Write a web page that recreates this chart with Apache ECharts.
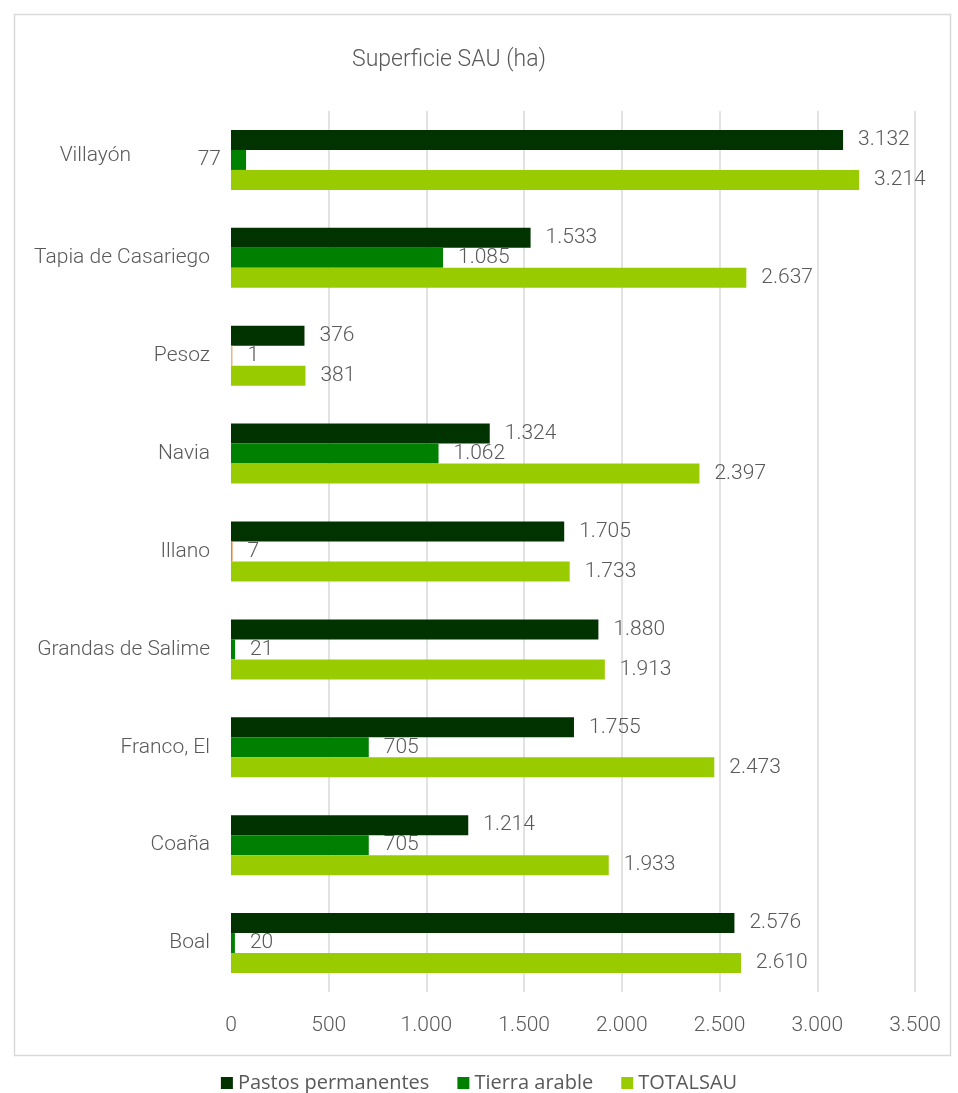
<!DOCTYPE html>
<html>
<head>
<meta charset="utf-8">
<script src="https://cdn.jsdelivr.net/npm/echarts@6/dist/echarts.min.js"></script>
<style>
html,body{margin:0;padding:0;background:#fff;}
#chart{width:958px;height:1093px;}
</style>
</head>
<body>
<div id="chart"></div>
<script>
const categories = ['Boal', 'Coaña', 'Franco, El', 'Grandas de Salime', 'Illano', 'Navia', 'Pesoz', 'Tapia de Casariego', 'Villayón'];
const pastos = [2576, 1214, 1755, 1880, 1705, 1324, 376, 1533, 3132];
const tierra = [20, 705, 705, 21, 7, 1062, 1, 1085, 77];
const totalSau = [2610, 1933, 2473, 1913, 1733, 2397, 381, 2637, 3214];
const seriesNames = ['Pastos permanentes', 'Tierra arable', 'TOTALSAU'];
const xTicks = [0, 500, 1000, 1500, 2000, 2500, 3000, 3500];

const FONT = 'Roboto';
const GREY = '#595959';
function fmt(v) {
  return String(Math.round(v)).replace(/\B(?=(\d{3})+(?!\d))/g, '.');
}
const labelBase = {
  show: true, position: 'right', distance: 15,
  color: GREY, fontFamily: FONT, fontSize: 21, fontWeight: 300,
  formatter: p => fmt(p.value)
};
// special styling for specific points (as in the original chart)
const tierraSpecial = {
  'Pesoz': { itemStyle: { color: '#F4B183' } },
  'Illano': { itemStyle: { color: '#ED7D31' } },
  'Villayón': { label: { position: 'left', distance: 10 } }
};
const tierraData = tierra.map((v, i) => Object.assign({ value: v }, tierraSpecial[categories[i]] || {}));

const chart = echarts.init(document.getElementById('chart'), null, { renderer: 'canvas' });
chart.setOption({
  backgroundColor: '#fff',
  animation: false,
  title: {
    text: 'Superficie SAU (ha)', left: 444, top: 44, textAlign: 'center',
    textStyle: { fontFamily: FONT, fontSize: 23, fontWeight: 300, color: GREY }
  },
  graphic: [{
    type: 'rect', left: 12, top: 12, z: -1,
    shape: { width: 936, height: 1041 },
    style: { fill: 'none', stroke: '#d9d9d9', lineWidth: 1.5 }
  }],
  legend: {
    data: seriesNames, top: 1068, left: 'center',
    itemWidth: 12, itemHeight: 12, itemGap: 28,
    icon: 'rect',
    textStyle: { fontFamily: 'Open Sans', fontSize: 20, color: GREY }
  },
  grid: { left: 231, right: 43, top: 111, height: 881, containLabel: false },
  xAxis: {
    type: 'value', min: 0, max: 3500, interval: 500,
    axisLine: { show: false }, axisTick: { show: false },
    splitLine: { show: true, showMinLine: false, lineStyle: { color: '#d9d9d9', width: 1.5 } },
    axisLabel: { color: GREY, fontFamily: FONT, fontSize: 21, fontWeight: 300, margin: 23, formatter: v => fmt(v) }
  },
  yAxis: {
    type: 'category', data: categories,
    axisLine: { show: false }, axisTick: { show: false },
    axisLabel: {
      color: GREY, fontFamily: FONT, fontSize: 21, fontWeight: 300, margin: 21,
      formatter: v => v === 'Villayón' ? '{v|' + v + '}' : v,
      rich: { v: { color: GREY, fontFamily: FONT, fontSize: 21, fontWeight: 300, padding: [0, 79, 8, 0] } }
    }
  },
  series: [
    { name: seriesNames[0], type: 'bar', data: pastos, barWidth: 20, barGap: '0%',
      itemStyle: { color: '#003300' }, label: labelBase },
    { name: seriesNames[1], type: 'bar', data: tierraData, barWidth: 20, barGap: '0%', barMinHeight: 1.5,
      itemStyle: { color: '#008000' }, label: labelBase },
    { name: seriesNames[2], type: 'bar', data: totalSau, barWidth: 20, barGap: '0%',
      itemStyle: { color: '#99CC00' }, label: labelBase }
  ]
});
</script>
</body>
</html>
